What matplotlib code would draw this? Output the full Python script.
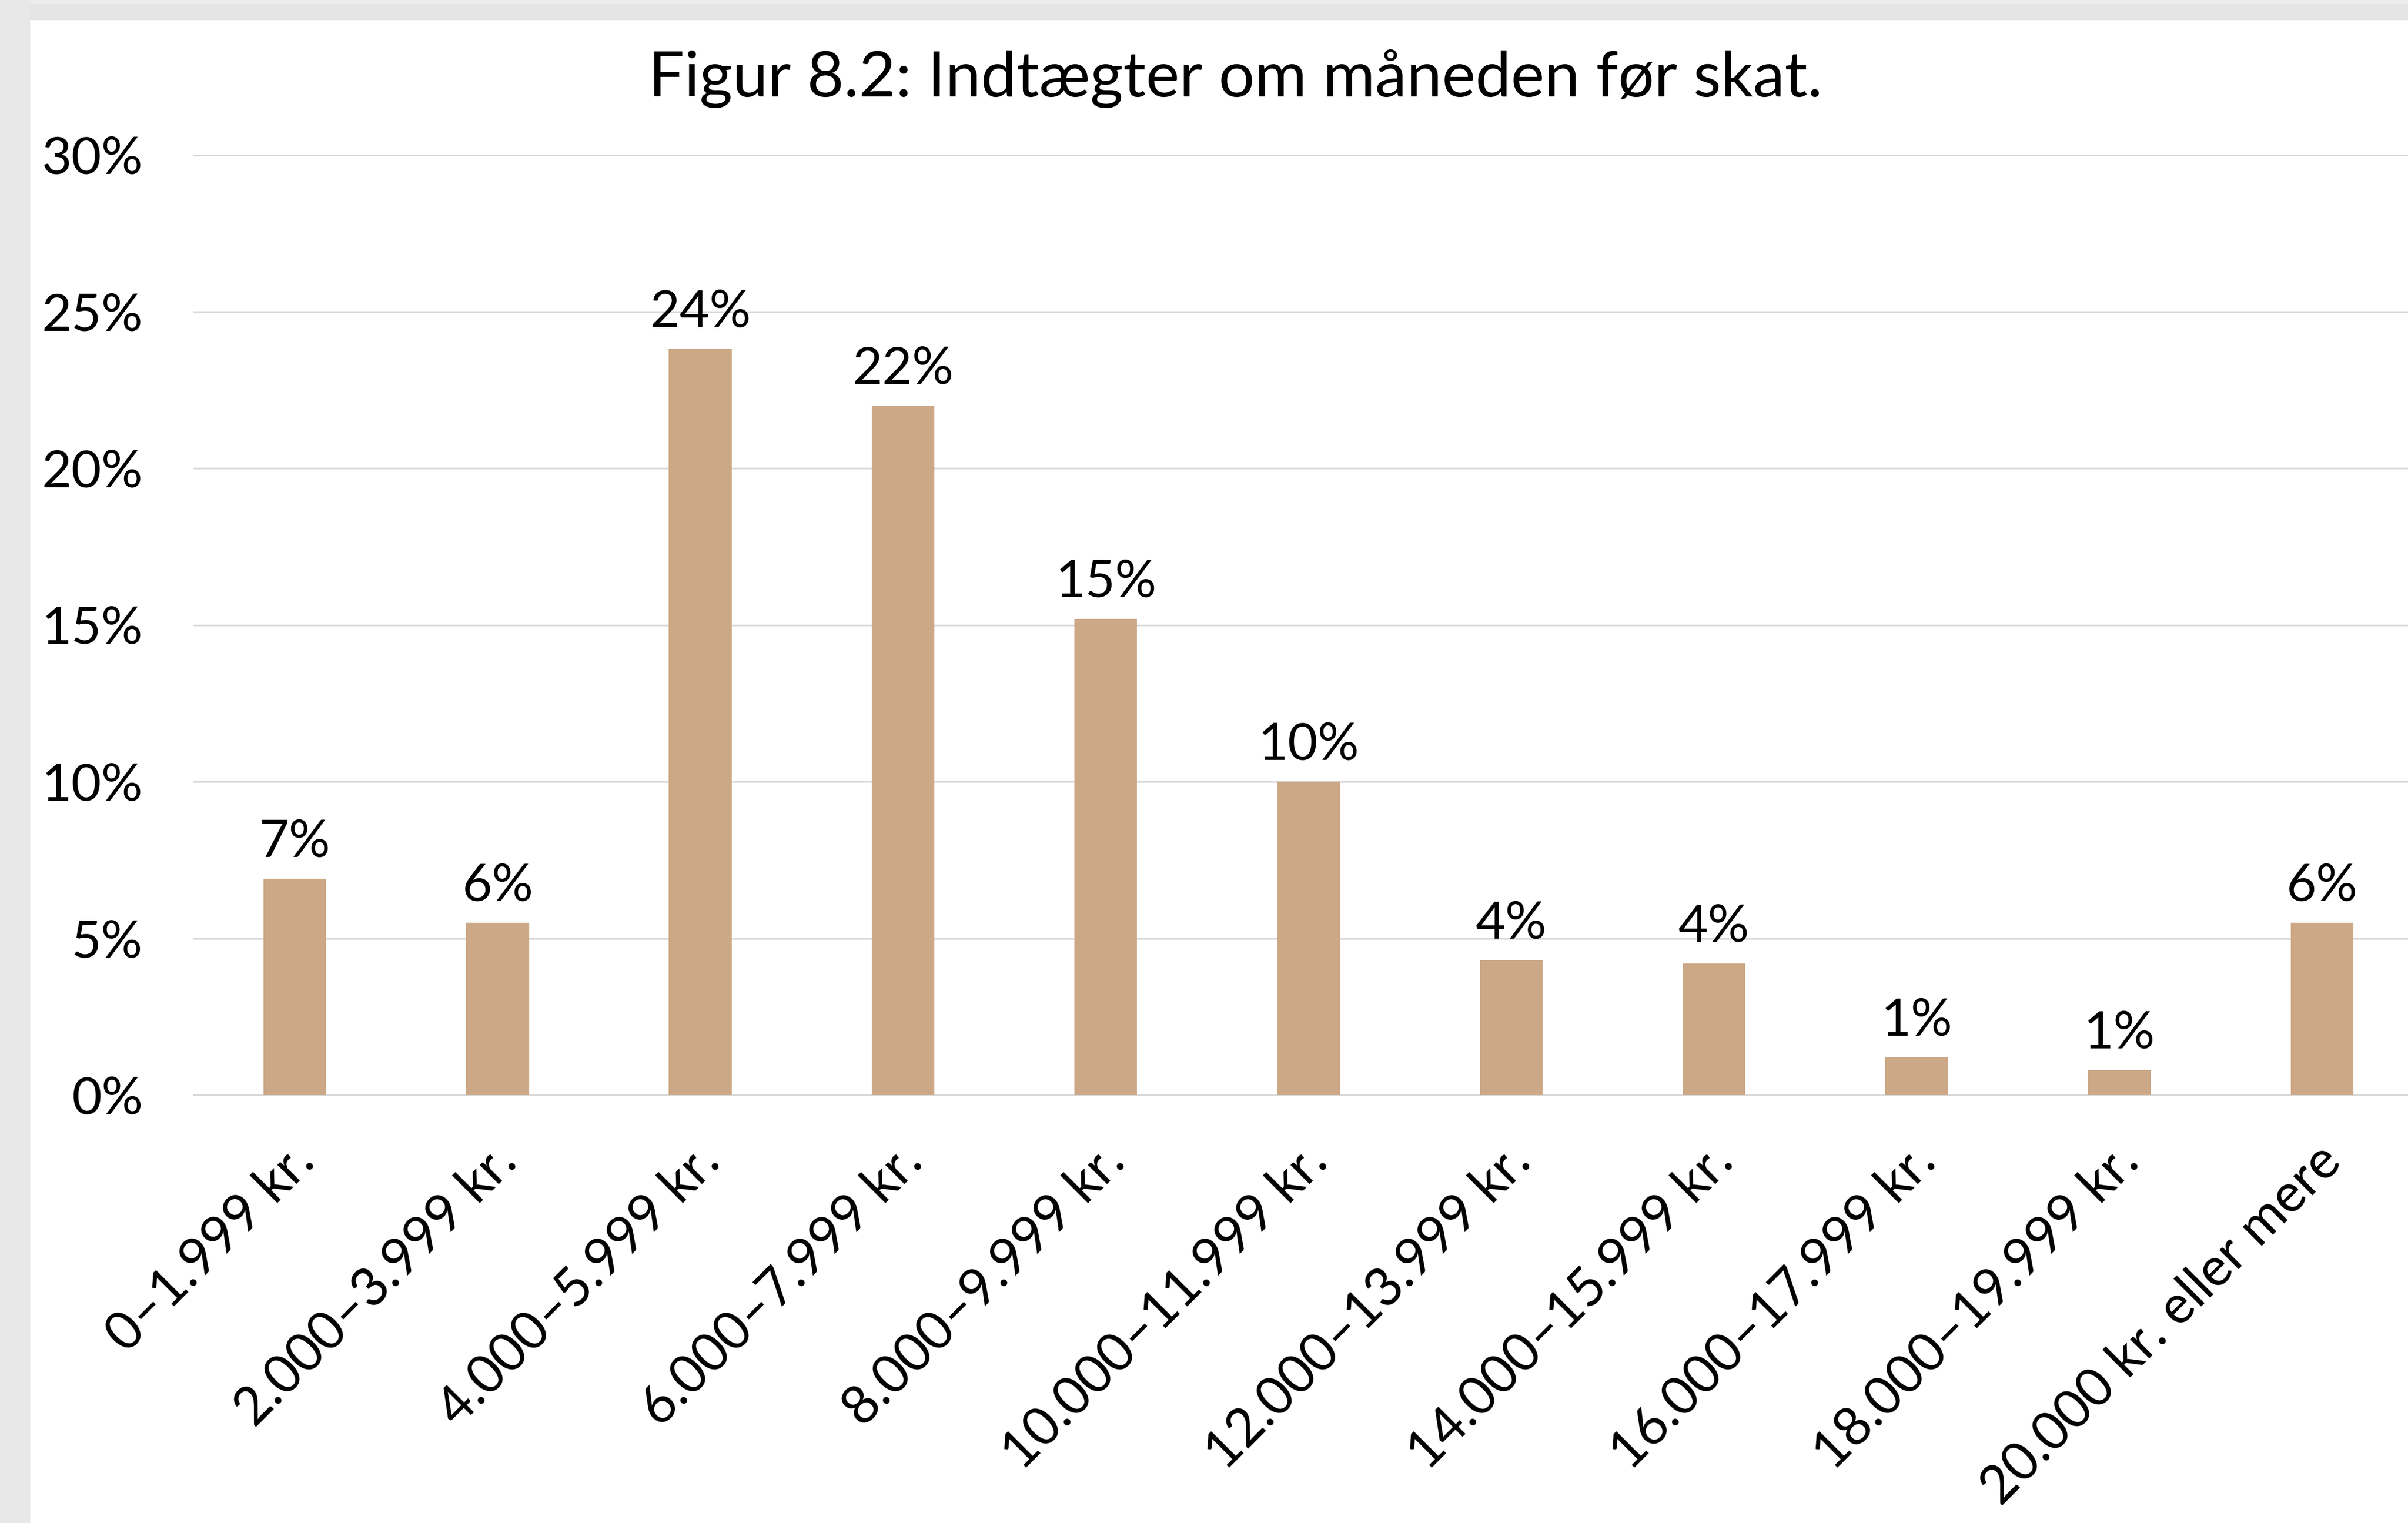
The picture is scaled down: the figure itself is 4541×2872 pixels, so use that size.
import matplotlib
matplotlib.use("Agg")
import matplotlib.pyplot as plt
from matplotlib.patches import Rectangle
from matplotlib.transforms import ScaledTranslation

categories = ["0–1.999 kr.", "2.000–3.999 kr.", "4.000–5.999 kr.", "6.000–7.999 kr.",
              "8.000–9.999 kr.", "10.000–11.999 kr.", "12.000–13.999 kr.",
              "14.000–15.999 kr.", "16.000–17.999 kr.", "18.000–19.999 kr.",
              "20.000 kr. eller mere"]
values = [6.9, 5.5, 23.8, 22.0, 15.2, 10.0, 4.3, 4.2, 1.2, 0.8, 5.5]
value_labels = ["7%", "6%", "24%", "22%", "15%", "10%", "4%", "4%", "1%", "1%", "6%"]
y_ticks = [0, 5, 10, 15, 20, 25, 30]
y_tick_labels = ["0%", "5%", "10%", "15%", "20%", "25%", "30%"]
title = "Figur 8.2: Indtægter om måneden før skat."

plt.rcParams['font.family'] = ['Lato', 'DejaVu Sans']

W, H = 4541, 2872
dpi = 100
fig = plt.figure(figsize=(W / dpi, H / dpi), dpi=dpi, facecolor="white")

# grey frame bands (top and left)
fig.patches.append(Rectangle((0, 1 - 38 / H), 1, 38 / H, transform=fig.transFigure,
                             facecolor="#e5e5e5", edgecolor="none", zorder=0))
fig.patches.append(Rectangle((0, 1 - 8 / H), 1, 8 / H, transform=fig.transFigure,
                             facecolor="#ececec", edgecolor="none", zorder=0))
fig.patches.append(Rectangle((0, 0), 57 / W, 1, transform=fig.transFigure,
                             facecolor="#e8e8e8", edgecolor="none", zorder=0))

left = 365 / W
right = 4570 / W
bottom = (H - 2065) / H
top = (H - 292) / H
ax = fig.add_axes([left, bottom, right - left, top - bottom])
ax.set_facecolor("none")

x = list(range(len(categories)))
bars = ax.bar(x, values, width=0.31, color="#CCA887", zorder=3)

ax.set_xlim(-0.5, len(categories) - 0.5)
ax.set_ylim(0, 30)
ax.set_yticks(y_ticks)
ax.set_yticklabels(y_tick_labels)
ax.yaxis.grid(True, color="#d9d9d9", linewidth=2.2, zorder=0)
ax.set_axisbelow(True)
for s in ["top", "right", "left"]:
    ax.spines[s].set_visible(False)
ax.spines["bottom"].set_color("#d9d9d9")
ax.spines["bottom"].set_linewidth(2.2)

ax.tick_params(axis="y", length=0, pad=69, labelsize=70, labelcolor="black")
ax.tick_params(axis="x", length=0, pad=56, labelsize=72, labelcolor="black")
ax.set_xticks(x)
ax.set_xticklabels(categories, rotation=45, ha="right", rotation_mode="anchor")
shift = ScaledTranslation(-12 / dpi, 0, fig.dpi_scale_trans)
for lbl in ax.get_xticklabels():
    lbl.set_transform(lbl.get_transform() + shift)

for xi, v, lab in zip(x, values, value_labels):
    ax.annotate(lab, (xi, v), xytext=(0, 30), textcoords="offset points",
                ha="center", va="baseline", fontsize=70, color="black")

fig.text(2330 / W, 1 - 182 / H, title, ha="center", va="baseline",
         fontsize=86, color="black")

fig.savefig("out.png", dpi=dpi, facecolor="white")
